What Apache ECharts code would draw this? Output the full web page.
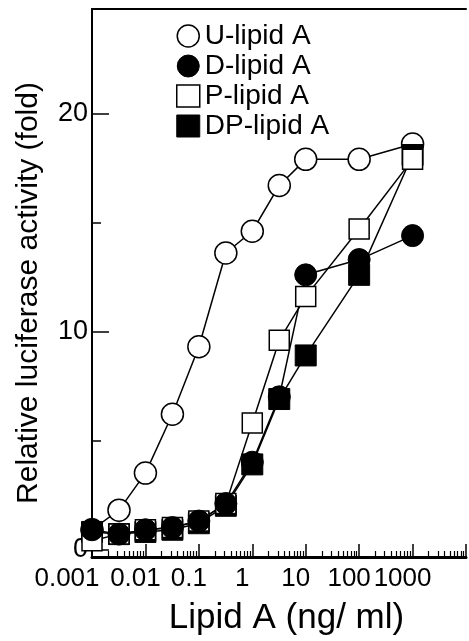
<!DOCTYPE html>
<html>
<head>
<meta charset="utf-8">
<script src="https://cdn.jsdelivr.net/npm/echarts@6/dist/echarts.min.js"></script>
<style>
  html, body { margin: 0; padding: 0; background: #fff; }
  #main { width: 469px; height: 641px; }
</style>
</head>
<body>
<div id="main"></div>
<script>
// doses (ng/ml) and measured fold activity
const doses = [0.001, 0.0032, 0.01, 0.032, 0.1, 0.32, 1, 3.2, 10, 100, 1000];
const uLipid = [0.9, 1.8, 3.5, 6.2, 9.3, 13.6, 14.6, 16.7, 17.9, 17.9, 18.6];
const dLipid = [0.9, 0.7, 0.9, 1.0, 1.3, 2.1, 4.0, 7.0, 12.6, 13.3, 14.4];
const pLipid = [0.4, 0.7, 0.9, 1.0, 1.3, 2.1, 5.8, 9.6, 11.6, 14.7, 17.9];
const dpLipid = [0.8, 0.7, 0.8, 0.9, 1.2, 2.0, 3.9, 6.9, 8.9, 12.6, 18.1];

const xTickLabels = ['0.001', '0.01', '0.1', '1', '10', '100', '1000'];
const yTickValues = [0, 10, 20];
const yMinorValues = [5, 15];

// minor ticks on the log axis (2..9 of each decade), in log10 space
const xMinorTicks = [];
for (let e = -3; e < 4; e++) {
    for (let k = 2; k <= 9; k++) xMinorTicks.push(e + Math.log10(k));
}

const pairs = ys => doses.map((d, i) => [d, ys[i]]);

const chart = echarts.init(document.getElementById('main'));

const base = {
    type: 'line',
    xAxisIndex: 0,
    yAxisIndex: 0,
    clip: false,
    lineStyle: { color: '#000', width: 1.5 },
    emphasis: { disabled: true },
    animation: false
};

// extra y axis that only draws ticks
const tickAxis = (values, len) => ({
    type: 'value',
    min: -0.35,
    max: 24.8,
    position: 'left',
    axisLine: { show: false, onZero: false },
    axisLabel: { show: false },
    splitLine: { show: false },
    axisTick: {
        show: true,
        inside: true,
        length: len,
        customValues: values,
        lineStyle: { color: '#000', width: 1.5 }
    }
});

const option = {
    animation: false,
    textStyle: { fontFamily: 'Liberation Sans, Arial, sans-serif', color: '#000' },
    grid: { left: 92, top: 9, width: 385, height: 549 },
    legend: {
        orient: 'vertical',
        left: 176,
        top: 22,
        padding: 0,
        itemWidth: 23,
        itemHeight: 22,
        itemGap: 2,
        selectedMode: false,
        textStyle: { fontSize: 28, color: '#000', lineHeight: 26 },
        data: [
            { name: 'U-lipid A', icon: 'circle', itemStyle: { color: '#fff', borderColor: '#000', borderWidth: 1.5 } },
            { name: 'D-lipid A', icon: 'circle', itemStyle: { color: '#000', borderColor: '#000', borderWidth: 1 } },
            { name: 'P-lipid A', icon: 'rect', itemStyle: { color: '#fff', borderColor: '#000', borderWidth: 1.5 } },
            { name: 'DP-lipid A', icon: 'rect', itemStyle: { color: '#000', borderColor: '#000', borderWidth: 1 } }
        ]
    },
    xAxis: [
        {
            type: 'log',
            min: 0.001,
            max: 10000,
            position: 'bottom',
            name: 'Lipid A (ng/ ml)',
            nameLocation: 'middle',
            nameGap: 44,
            nameTextStyle: { fontSize: 35, color: '#000', padding: [0, 0, 0, 15] },
            axisLine: { show: true, onZero: false, lineStyle: { color: '#000', width: 3 } },
            axisTick: { show: true, inside: true, length: 13, lineStyle: { color: '#000', width: 1.5 } },
            splitLine: { show: false },
            axisLabel: {
                fontSize: 26,
                color: '#000',
                margin: 9,
                formatter: v => {
                    const i = Math.round(Math.log10(v)) + 3;
                    if (i < 0 || i >= xTickLabels.length) return '';
                    return i === 0 ? '{a|' + xTickLabels[i] + '}' : '{b|' + xTickLabels[i] + '}';
                },
                rich: {
                    a: { fontSize: 26, padding: [0, 50, 0, 0] },
                    b: { fontSize: 26, padding: [0, 20, 0, 0] }
                }
            }
        },
        {
            type: 'value',
            min: -3,
            max: 4,
            position: 'bottom',
            axisLine: { show: false, onZero: false },
            axisLabel: { show: false },
            splitLine: { show: false },
            axisTick: {
                show: true,
                inside: true,
                length: 6,
                customValues: xMinorTicks,
                lineStyle: { color: '#000', width: 1.2 }
            }
        },
        {
            type: 'value',
            min: 0,
            max: 1,
            position: 'top',
            axisLine: { show: true, onZero: false, lineStyle: { color: '#000', width: 2 } },
            axisTick: { show: false },
            axisLabel: { show: false },
            splitLine: { show: false }
        }
    ],
    yAxis: [
        {
            type: 'value',
            min: -0.35,
            max: 24.8,
            position: 'left',
            name: 'Relative luciferase activity (fold)',
            nameLocation: 'middle',
            nameGap: 48,
            nameTextStyle: { fontSize: 30, color: '#000', padding: [0, 20, 0, 0] },
            axisLine: { show: true, onZero: false, lineStyle: { color: '#000', width: 2 } },
            axisTick: { show: false },
            axisLabel: { fontSize: 27, color: '#000', margin: 4, customValues: yTickValues },
            splitLine: { show: false }
        },
        tickAxis(yTickValues, 17),
        tickAxis(yMinorValues, 9)
    ],
    series: [
        Object.assign({}, base, {
            name: 'U-lipid A',
            data: pairs(uLipid),
            symbol: 'circle',
            symbolSize: 22,
            itemStyle: { color: '#fff', borderColor: '#000', borderWidth: 1.5 }
        }),
        Object.assign({}, base, {
            name: 'DP-lipid A',
            data: pairs(dpLipid),
            symbol: 'rect',
            symbolSize: 21,
            itemStyle: { color: '#000', borderColor: '#000', borderWidth: 1 }
        }),
        Object.assign({}, base, {
            name: 'P-lipid A',
            data: pairs(pLipid),
            symbol: 'rect',
            symbolSize: 20,
            itemStyle: { color: '#fff', borderColor: '#000', borderWidth: 1.5 }
        }),
        Object.assign({}, base, {
            name: 'D-lipid A',
            data: pairs(dLipid),
            symbol: 'circle',
            symbolSize: 22,
            itemStyle: { color: '#000', borderColor: '#000', borderWidth: 1 }
        })
    ]
};

chart.setOption(option);
</script>
</body>
</html>
